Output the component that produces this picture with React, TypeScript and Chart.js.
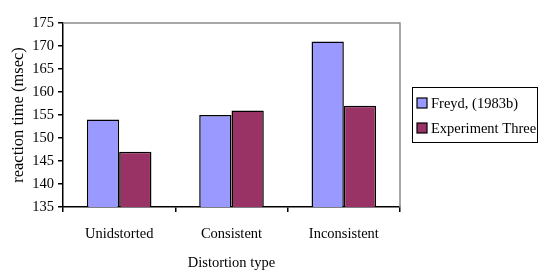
import { useEffect, useRef } from "react";
import { Chart, registerables } from "chart.js";

Chart.register(...registerables);

const categories = ["Unidstorted", "Consistent", "Inconsistent"];
const seriesLabels = ["Freyd, (1983b)", "Experiment Three"];
const freydValues = [154, 155, 171];
const experimentThreeValues = [147, 156, 157];
const yMin = 135;
const yMax = 175;
const yStep = 5;
const xTitle = "Distortion type";
const yTitle = "reaction time (msec)";

const FONT = "'Liberation Serif', 'Times New Roman', serif";
const FS = 14.5;

const frameAndLegend = {
  id: "frameAndLegend",
  beforeDatasetsDraw(chart: any) {
    const { ctx, chartArea } = chart;
    ctx.save();
    ctx.strokeStyle = "#8c8c8c";
    ctx.lineWidth = 1.5;
    ctx.beginPath();
    ctx.moveTo(chartArea.left, chartArea.top);
    ctx.lineTo(chartArea.right, chartArea.top);
    ctx.lineTo(chartArea.right, chartArea.bottom);
    ctx.stroke();
    ctx.restore();
  },
  afterDraw(chart: any) {
    const { ctx } = chart;
    ctx.save();
    ctx.strokeStyle = "#000";
    ctx.lineWidth = 1;
    ctx.strokeRect(412.5, 87.5, 125, 55);
    ctx.font = `${FS}px ${FONT}`;
    ctx.textBaseline = "middle";
    ctx.textAlign = "left";
    chart.data.datasets.forEach((ds: any, i: number) => {
      const cy = 103 + i * 25;
      ctx.fillStyle = ds.backgroundColor;
      ctx.fillRect(417, cy - 5, 10, 10);
      ctx.strokeStyle = "#000";
      ctx.lineWidth = 1.2;
      ctx.strokeRect(417, cy - 5, 10, 10);
      ctx.fillStyle = "#000";
      ctx.fillText(ds.label, 431, cy + 1);
    });
    ctx.restore();
  },
};

export default function App() {
  const ref = useRef<HTMLCanvasElement>(null);
  useEffect(() => {
    const chart = new Chart(ref.current!, {
      type: "bar",
      data: {
        labels: categories,
        datasets: [
          {
            label: seriesLabels[0],
            data: freydValues,
            backgroundColor: "#9999FF",
            borderColor: "#000000",
            borderWidth: 1.5,
            categoryPercentage: 0.575,
            barPercentage: 1,
          },
          {
            label: seriesLabels[1],
            data: experimentThreeValues,
            backgroundColor: "#993366",
            borderColor: "#000000",
            borderWidth: 1.5,
            categoryPercentage: 0.575,
            barPercentage: 1,
          },
        ],
      },
      options: {
        responsive: false,
        animation: false,
        events: [],
        layout: { padding: { left: 0, right: 138, top: 23, bottom: 0 } },
        plugins: { legend: { display: false }, tooltip: { enabled: false } },
        scales: {
          x: {
            grid: {
              offset: true,
              drawOnChartArea: false,
              drawTicks: true,
              tickLength: 5,
              color: "#000",
              lineWidth: 1.5,
            },
            border: { display: true, color: "#000", width: 1.5 },
            ticks: { color: "#000", font: { family: FONT, size: FS }, padding: 13, maxRotation: 0 },
            title: {
              display: true,
              text: xTitle,
              color: "#000",
              font: { family: FONT, size: FS },
              padding: { top: 0, bottom: -1 },
            },
            afterFit(scale: any) {
              scale.height = 64;
            },
          },
          y: {
            min: yMin,
            max: yMax,
            ticks: {
              stepSize: yStep,
              color: "#000",
              font: { family: FONT, size: FS },
              padding: 4,
            },
            grid: {
              drawOnChartArea: false,
              drawTicks: true,
              tickLength: 5,
              color: "#000",
              lineWidth: 1.5,
            },
            border: { display: true, color: "#000", width: 1.5 },
            title: {
              display: true,
              text: yTitle,
              color: "#000",
              font: { family: FONT, size: 16.5 },
              padding: { top: 9, bottom: 0 },
            },
            afterFit(scale: any) {
              scale.width = 63;
            },
          },
        },
      },
      plugins: [frameAndLegend],
    });
    return () => chart.destroy();
  }, []);
  return (
    <div style={{ position: "absolute", left: 0, top: 0, width: 538, height: 271, background: "#fff" }}>
      <canvas ref={ref} width={538} height={271} />
    </div>
  );
}
